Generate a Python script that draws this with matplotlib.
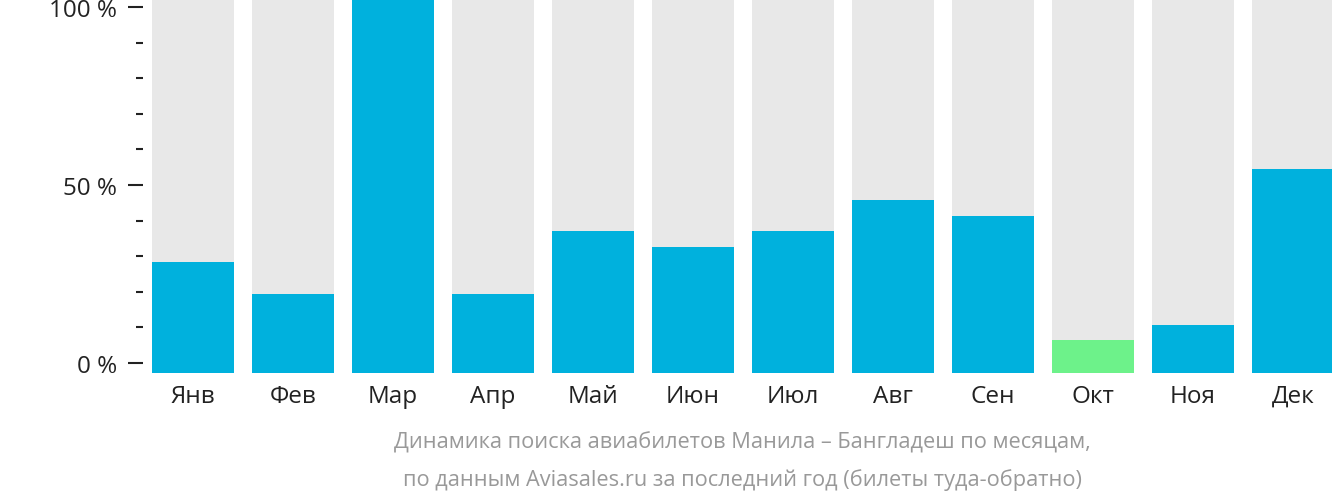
import matplotlib.pyplot as plt
import numpy as np

plt.rcParams['font.family'] = ['Open Sans', 'DejaVu Sans']

months = ["Янв", "Фев", "Мар", "Апр", "Май", "Июн",
          "Июл", "Авг", "Сен", "Окт", "Ноя", "Дек"]
values = [29.7, 21.1, 100, 21.1, 38.0, 33.7, 38.0, 46.3, 42.0, 8.8, 12.8, 54.5]
lowest = "Окт"

tick_labels = ["0 %", "50 %", "100 %"]

BLUE = "#00b1dd"
GRAY = "#e8e8e8"
GREEN = "#6df28a"

W, H = 1332, 502
fig = plt.figure(figsize=(W / 100, H / 100), dpi=100)
ax = fig.add_axes([143 / W, (H - 374) / H, (W - 143) / W, 374 / H])

x = np.arange(len(months))
ax.bar(x, [100] * len(months), width=0.82, color=GRAY, zorder=1)
colors = [GREEN if m == lowest else BLUE for m in months]
ax.bar(x, values, width=0.82, color=colors, zorder=2)

ax.set_xlim(-0.5, 11.39)
ax.set_ylim(0, 100)

# ticks sit a bit inside the bar range (0 % at 364px, 100 % at 8px)
y0 = 10 / 374 * 100
y1 = 366 / 374 * 100
major = np.linspace(y0, y1, 3)
minor = np.linspace(y0, y1, 11)
ax.set_yticks(major)
ax.set_yticklabels(tick_labels)
ax.set_yticks(minor, minor=True)
ax.tick_params(axis="y", which="major", length=10.8, width=1.5, pad=8,
               labelsize=17.5, colors="#222222")
ax.tick_params(axis="y", which="minor", length=5, width=1.5, colors="#222222")

ax.set_xticks(x)
ax.set_xticklabels(months)
ax.tick_params(axis="x", length=0, pad=8, labelsize=17.5, labelcolor="#222222")

for s in ax.spines.values():
    s.set_visible(False)

fig.text(742 / W, 1 - 443 / H, "Динамика поиска авиабилетов Манила – Бангладеш по месяцам,",
         ha="center", va="center", fontsize=15.7, color="#999999")
fig.text(742 / W, 1 - 480 / H, "по данным Aviasales.ru за последний год (билеты туда-обратно)",
         ha="center", va="center", fontsize=15.7, color="#999999")

fig.savefig("out.png", dpi=100)
